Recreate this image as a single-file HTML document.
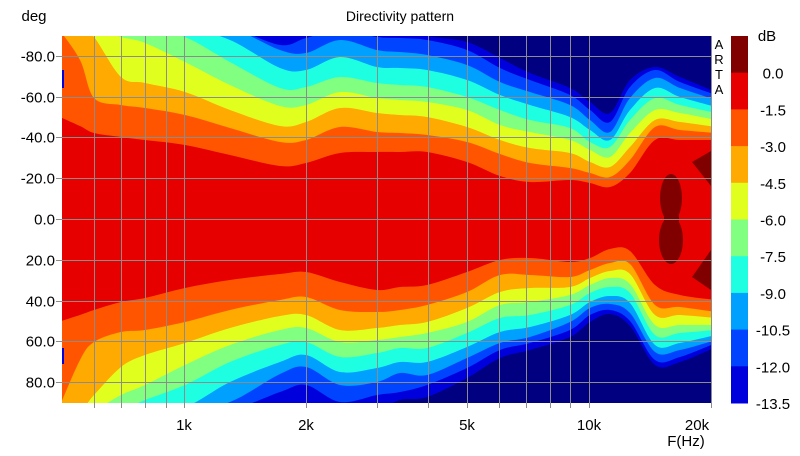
<!DOCTYPE html>
<html><head><meta charset="utf-8"><style>
html,body{margin:0;padding:0;background:#fff;width:800px;height:456px;overflow:hidden;position:relative;}
svg{display:block;position:absolute;left:0;top:0;font-family:"Liberation Sans",Arial,sans-serif;}
</style></head><body>
<svg id="s" width="800" height="456" viewBox="0 0 800 456" xmlns="http://www.w3.org/2000/svg">
<defs><clipPath id="pc"><rect x="62" y="36" width="649" height="367"/></clipPath></defs>
<g id="plot" clip-path="url(#pc)">
<rect x="62" y="36" width="649" height="367" fill="#000080"/>
</g>
<g id="grid" stroke="#8c8c8c" stroke-width="1" fill="none"></g>
<text x="400" y="21" font-size="14" text-anchor="middle">Directivity pattern</text>
<text x="34" y="21" font-size="15" text-anchor="middle">deg</text>
<g font-size="15" text-anchor="end" id="ylab"></g>
<g font-size="15" text-anchor="middle">
<text x="184" y="430">1k</text><text x="306" y="430">2k</text><text x="467" y="430">5k</text>
<text x="589" y="430">10k</text><text x="697" y="430">20k</text>
<text x="686" y="446">F(Hz)</text></g>
<g font-size="13" text-anchor="middle"><text x="719" y="49">A</text><text x="719" y="64">R</text><text x="719" y="79">T</text><text x="719" y="94">A</text></g>
<g id="cbar"></g>
</svg>
<script>
var NS="http://www.w3.org/2000/svg";
function el(t,a,p){var e=document.createElementNS(NS,t);for(var k in a)e.setAttribute(k,a[k]);if(p)p.appendChild(e);return e;}
var xs=[62,80,94,121,145,185,230,280,306,340,377,400,427,467,500,530,570,590,610,630,655,680,711];
var U=[
[116,126,133,137,140,145,155,166,163,153,152,152,152,162,176,182,180,183,187,173,140,140,140],
[20,60,98,105,108,115,128,142,140,127,132,133,135,142,154,163,168,173,177,160,127,130,133],
[20,20,37,77,83,92,110,126,122,108,113,115,117,127,140,148,153,162,167,147,120,122,127],
[20,20,20,37,43,62,85,106,105,92,98,100,102,110,125,132,140,150,157,133,110,113,120],
[20,20,20,20,20,37,62,88,87,77,83,85,87,97,110,120,128,142,147,120,98,105,113],
[10,10,10,10,10,20,40,68,70,57,67,68,70,80,95,105,117,130,140,110,88,97,107],
[5,5,5,5,5,10,20,50,53,40,50,52,55,65,82,92,105,120,132,98,78,88,100],
[0,0,0,0,0,0,15,45,38,30,37,38,40,50,68,80,95,110,122,87,70,82,95],
[0,0,0,0,0,0,10,20,20,15,20,28,36,42,58,73,88,102,113,80,67,77,92]];
var L=[
[322,315,310,302,298,288,280,274,272,282,290,287,285,272,260,258,262,258,249,251,285,295,300],
[430,360,342,332,330,322,310,300,297,310,312,310,305,292,275,275,277,270,263,264,305,307,312],
[430,430,395,367,355,343,328,316,315,330,328,325,322,308,292,288,287,278,271,274,315,315,318],
[430,430,430,395,385,365,345,330,328,342,340,337,333,322,305,302,295,285,278,284,325,325,325],
[440,440,440,420,400,385,362,345,342,357,353,348,348,333,318,315,305,293,287,293,335,333,330],
[450,450,450,440,430,407,382,362,355,372,368,362,362,347,332,327,315,302,296,303,345,343,335],
[460,460,460,450,440,425,402,374,367,385,382,373,375,358,343,337,322,308,304,313,352,350,340],
[470,470,470,460,450,440,420,392,385,402,395,392,385,368,350,343,330,315,310,321,360,357,343],
[480,480,480,470,460,450,430,420,415,420,415,400,397,378,358,350,337,322,314,326,365,362,347]];
function cl(y){return Math.max(28,Math.min(410,y));}
var C=["#e60000","#ff5500","#ffaa00","#e1ff1e","#80ff80","#1effe1","#00a0ff","#0044ff","#0000dd"];
function crPath(pts){var d="";for(var i=0;i<pts.length-1;i++){var p0=pts[Math.max(i-1,0)],p1=pts[i],p2=pts[i+1],p3=pts[Math.min(i+2,pts.length-1)];
var c1=[p1[0]+(p2[0]-p0[0])/6,cl(p1[1]+(p2[1]-p0[1])/6)],c2=[p2[0]-(p3[0]-p1[0])/6,cl(p2[1]-(p3[1]-p1[1])/6)];
d+=" C"+c1[0].toFixed(1)+","+c1[1].toFixed(1)+" "+c2[0].toFixed(1)+","+c2[1].toFixed(1)+" "+p2[0]+","+p2[1];}return d;}
var plot=document.getElementById("plot");
for(var k=8;k>=0;k--){
 var up=xs.map(function(x,i){return[x,cl(U[k][i])];});up[0][0]=58;up[up.length-1][0]=716;
 var lo=xs.map(function(x,i){return[x,cl(L[k][i])];}).reverse();lo[0][0]=716;lo[lo.length-1][0]=58;
 var d="M"+up[0][0]+","+up[0][1]+crPath(up)+" L"+lo[0][0]+","+lo[0][1]+crPath(lo)+" Z";
 el("path",{d:d,fill:C[k]},plot);
}
var dr="#800000";
el("ellipse",{cx:671,cy:198,rx:11,ry:24,fill:dr},plot);
el("ellipse",{cx:671,cy:240,rx:12,ry:24,fill:dr},plot);
el("rect",{x:664,y:205,width:15,height:30,fill:dr},plot);
el("polygon",{points:"692,162 711,151 711,186",fill:dr},plot);
el("polygon",{points:"692,277 711,250 711,290",fill:dr},plot);
el("rect",{x:62,y:70,width:2,height:18,fill:"#0000dd"},plot);
el("rect",{x:62,y:348,width:2,height:16,fill:"#0000dd"},plot);
var g=document.getElementById("grid");
var vx=[94,121.3,144.7,165.5,184,306,377.2,427.8,467,499.2,526.2,549.7,570.4,589];
vx.forEach(function(x){x=Math.round(x)+0.5;el("line",{x1:x,y1:36,x2:x,y2:408},g);});
var yl=document.getElementById("ylab");
for(var a=-80;a<=80;a+=20){var y=Math.round(219+2.04*a)+0.5;el("line",{x1:56,y1:y,x2:711,y2:y},g);
 var t=el("text",{x:55,y:y+5},yl);t.textContent=a.toFixed(1);}
el("line",{x1:711.5,y1:36,x2:711.5,y2:408},g);
var cb=document.getElementById("cbar");
var cc2=["#800000","#e60000","#ff5500","#ffaa00","#e1ff1e","#80ff80","#1effe1","#00a0ff","#0044ff","#0000dd"];
var h=367/10;
for(var i=0;i<10;i++){el("rect",{x:731,y:36+i*h,width:17,height:h+0.5,fill:cc2[i]},cb);}
var labs=["dB","0.0","-1.5","-3.0","-4.5","-6.0","-7.5","-9.0","-10.5","-12.0","-13.5"];
for(var i=0;i<11;i++){var t=el("text",{x:(i==0?767:773),y:36+i*h+(i==0?5:6),"font-size":15,"text-anchor":"middle"},cb);t.textContent=labs[i];}
</script>
</body></html>
